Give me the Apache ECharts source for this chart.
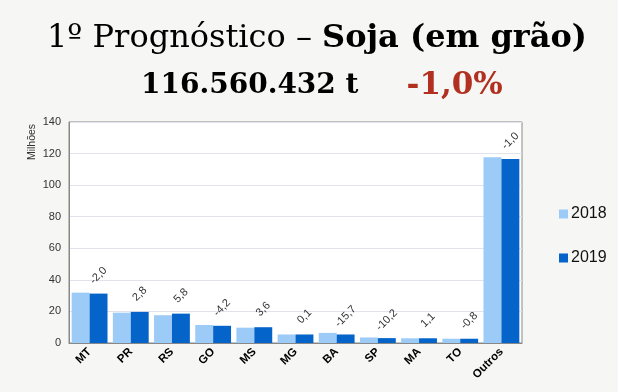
<!DOCTYPE html>
<html><head><meta charset="utf-8">
<script src="https://cdn.jsdelivr.net/npm/echarts@6/dist/echarts.min.js"></script>
<style>html,body{margin:0;padding:0;background:#f6f6f4;}#c{width:618px;height:392px;}</style>
</head><body><div id="c"></div>
<script>
var categories = ['MT','PR','RS','GO','MS','MG','BA','SP','MA','TO','Outros'];
var values2018 = [31.9, 19.2, 17.6, 11.4, 9.7, 5.4, 6.4, 3.5, 3.0, 2.7, 117.7];
var values2019 = [31.3, 19.7, 18.6, 10.9, 10.0, 5.4, 5.4, 3.1, 3.0, 2.7, 116.6];
var changes = ['-2,0','2,8','5,8','-4,2','3,6','0,1','-15,7','-10,2','1,1','-0,8','-1,0'];
var yTicks = {min:0, max:140, interval:20};

var chart = echarts.init(document.getElementById('c'));
chart.setOption({
  backgroundColor:'#f6f6f4',
  animation:false,
  title:[{
    text:'{a|1º Prognóstico – }{b|Soja (em grão)}',
    left:42, top:18,
    textStyle:{rich:{
      a:{fontFamily:'DejaVu Serif', fontSize:32, fontWeight:'normal', color:'#000'},
      b:{fontFamily:'DejaVu Serif', fontSize:32, fontWeight:'bold', color:'#000'}
    }}
  },{
    text:'{a|116.560.432 t}{s| }{c|-1,0%}',
    left:136, top:65,
    textStyle:{rich:{
      a:{fontFamily:'DejaVu Serif', fontSize:28, fontWeight:'bold', color:'#000'},
      s:{width:48},
      c:{fontFamily:'DejaVu Serif', fontSize:31, fontWeight:'bold', color:'#b1301f'}
    }}
  }],
  graphic:[{
    type:'text', x:32, y:142, rotation:Math.PI/2,
    style:{text:'Milhões', fontFamily:'Liberation Sans', fontSize:10.5, fill:'#333', align:'center', verticalAlign:'middle'}
  }],
  legend:{
    orient:'vertical', left:554, top:201, itemGap:28,
    itemWidth:9, itemHeight:9, icon:'rect',
    textStyle:{fontFamily:'Liberation Sans', fontSize:16, color:'#111', padding:[0,0,0,-2]},
    data:['2018','2019']
  },
  grid:{left:69, right:96, top:122, bottom:49, show:true, backgroundColor:'#fff', borderColor:'#888', borderWidth:1},
  xAxis:{
    type:'category', data:categories,
    axisLine:{lineStyle:{color:'#888'}},
    axisTick:{show:false},
    axisLabel:{rotate:45, interval:0, fontFamily:'Liberation Sans', fontWeight:'bold', fontSize:11.5, color:'#000', margin:7}
  },
  yAxis:{
    type:'value', min:yTicks.min, max:yTicks.max, interval:yTicks.interval,
    axisLine:{show:true, lineStyle:{color:'#888'}},
    axisTick:{show:false},
    splitLine:{lineStyle:{color:'#e2e2ec'}},
    axisLabel:{fontFamily:'Liberation Sans', fontSize:11, color:'#333', margin:8}
  },
  series:[{
    name:'2018', type:'bar', data:values2018, barGap:'0%', barCategoryGap:'13%',
    itemStyle:{color:'#9dcbf8'}
  },{
    name:'2019', type:'bar', data:values2019, barGap:'0%', barCategoryGap:'13%',
    itemStyle:{color:'#0564c9'},
    label:{show:true, position:'top', distance:18, rotate:45, align:'center', verticalAlign:'middle',
      fontFamily:'Liberation Sans', fontSize:11, color:'#333',
      formatter:function(p){return changes[p.dataIndex];}}
  }]
});
</script></body></html>
